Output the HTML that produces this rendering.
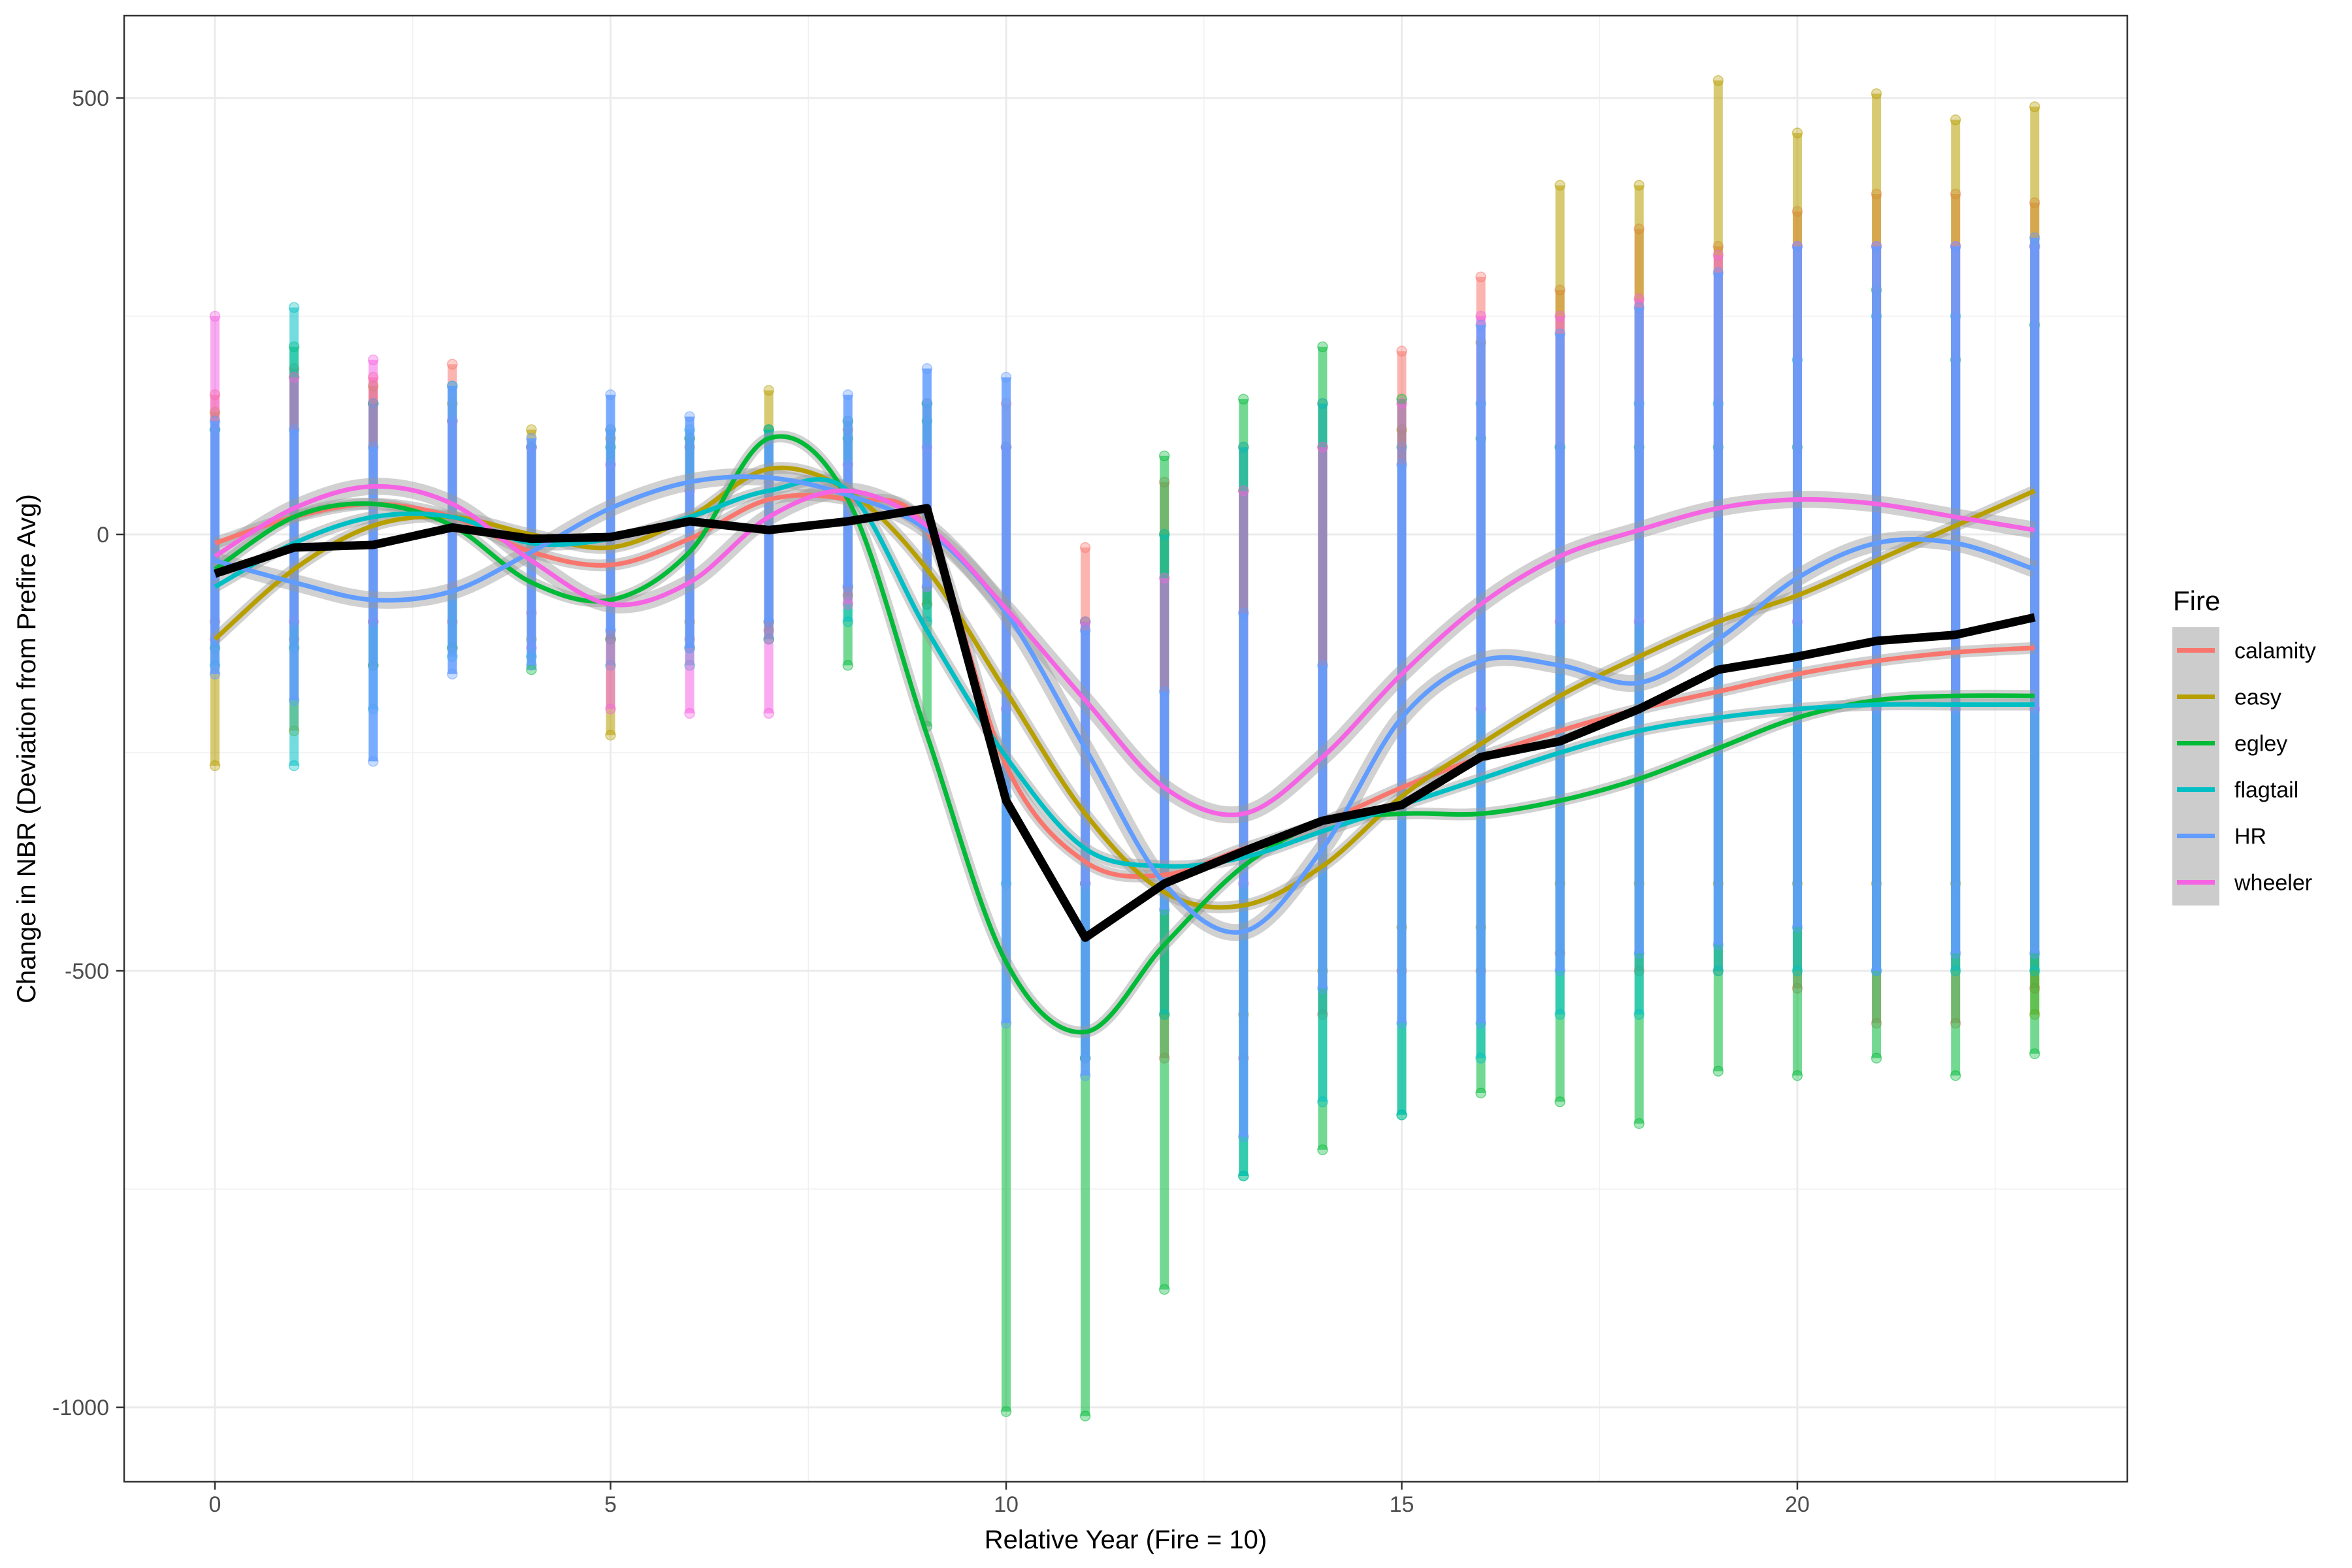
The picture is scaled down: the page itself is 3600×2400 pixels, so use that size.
<!DOCTYPE html>
<html><head><meta charset="utf-8"><style>
html,body{margin:0;padding:0;background:#fff;}
svg{display:block;font-family:"Liberation Sans",Arial,sans-serif;}
</style></head><body>
<svg id="chart" width="3600" height="2400" viewBox="0 0 3600 2400" xmlns="http://www.w3.org/2000/svg">
<rect x="0" y="0" width="3600" height="2400" fill="#fff"/>
<g id="grid"></g>
<g id="cols"></g>
<g id="bands"></g>
<g id="lines"></g>
<g id="mean"></g>
<rect x="190" y="24" width="3066" height="2244" fill="none" stroke="#333" stroke-width="2.5"/>
<g id="axes"></g>
<text x="1723" y="2370" font-size="40" text-anchor="middle" fill="#000">Relative Year (Fire = 10)</text>
<text transform="translate(54,1146) rotate(-90)" font-size="40" text-anchor="middle" fill="#000">Change in NBR (Deviation from Prefire Avg)</text>
<g id="legend"></g>
</svg>
<script>
const years = [0,1,2,3,4,5,6,7,8,9,10,11,12,13,14,15,16,17,18,19,20,21,22,23];
const fires = ["calamity","easy","egley","flagtail","HR","wheeler"];
const colors = ["#F8766D","#B79F00","#00BA38","#00BFC4","#619CFF","#F564E3"];
const xTicks = [0,5,10,15,20];
const yTicks = [500,0,-500,-1000];
// point column ranges (top / bottom) per fire per year
const calamityTop = [160,190,180,195,100,120,100,120,120,150,150,-15,60,100,150,210,295,280,350,330,370,390,390,380];
const calamityBot = [-100,-120,-100,-100,-90,-120,-120,-110,-60,-80,-300,-600,-600,-600,-550,-500,-500,-480,-500,-500,-520,-560,-560,-520];
const easyTop = [140,180,170,150,120,110,110,165,130,150,100,-100,0,50,100,120,220,400,400,520,460,505,475,490];
const easyBot = [-265,-225,-150,-130,-120,-230,-100,-100,-70,-80,-300,-600,-550,-550,-500,-450,-450,-400,-400,-400,-400,-400,-400,-550];
const egleyTop = [120,215,150,130,100,100,110,120,110,130,-300,-400,90,155,215,155,110,100,100,100,100,280,200,240];
const egleyBot = [-130,-130,-150,-130,-155,-120,-130,-120,-150,-220,-1005,-1010,-865,-735,-705,-665,-640,-650,-675,-615,-620,-600,-620,-595];
const flagtailTop = [120,260,150,170,100,120,120,120,130,150,100,-100,0,100,150,100,150,100,150,150,200,250,250,330];
const flagtailBot = [-150,-265,-200,-140,-140,-150,-150,-120,-100,-100,-400,-600,-550,-735,-650,-665,-600,-550,-550,-500,-500,-500,-500,-500];
const hrTop = [130,120,100,170,110,160,135,110,160,190,180,-110,-180,-90,-150,80,240,230,260,300,330,330,330,340];
const hrBot = [-160,-190,-260,-160,-150,-110,-130,-100,-60,-60,-560,-620,-430,-690,-520,-560,-560,-500,-480,-470,-450,-500,-480,-480];
const wheelerTop = [250,180,200,130,100,80,50,60,80,100,100,-100,-50,50,100,150,250,250,270,320,330,330,330,330];
const wheelerBot = [-120,-100,-100,-60,-130,-200,-205,-205,-80,-60,-200,-400,-400,-400,-350,-300,-200,-100,-100,-100,-100,-200,-200,-200];
// smooth curves per fire
const calamitySm = [-10,20,35,20,-20,-35,-5,40,40,5,-265,-375,-390,-360,-330,-290,-255,-225,-200,-180,-160,-145,-135,-130];
const easySm = [-120,-40,10,20,0,-15,20,75,50,-40,-180,-320,-410,-425,-380,-300,-240,-185,-140,-100,-70,-30,10,50];
const egleySm = [-40,20,35,10,-55,-75,-20,110,40,-230,-490,-570,-470,-380,-330,-320,-320,-305,-280,-245,-210,-190,-185,-185];
const flagtailSm = [-60,-10,20,20,-10,-5,20,50,50,-110,-255,-360,-380,-370,-340,-310,-280,-250,-225,-210,-200,-195,-195,-195];
const hrSm = [-30,-55,-75,-65,-20,30,60,65,45,5,-90,-245,-400,-455,-360,-210,-145,-150,-170,-120,-50,-10,-10,-40];
const wheelerSm = [-25,30,55,35,-30,-80,-55,20,50,10,-85,-190,-290,-320,-255,-160,-80,-25,5,30,40,35,20,5];
const meanVals = [-45,-15,-12,8,-5,-3,15,5,15,30,-305,-462,-400,-363,-328,-310,-255,-237,-200,-155,-140,-122,-115,-95];

const X0=329, XS=121.1, Y0=818, YS=668/500;
const xs = v => X0 + v*XS;
const ys = v => Y0 - v*YS;
const NS="http://www.w3.org/2000/svg";
function mk(tag, parent, attrs){const e=document.createElementNS(NS,tag);for(const k in attrs)e.setAttribute(k,attrs[k]);parent.appendChild(e);return e;}

const grid=document.getElementById('grid');
[250,-250,-750].forEach(v=>{const l=mk('line',grid,{x1:190,x2:3256,y1:ys(v),y2:ys(v),stroke:'#f0f0f0','stroke-width':1.5});

});
[2.5,7.5,12.5,17.5,22.5].forEach(v=>{const l=mk('line',grid,{x1:xs(v),x2:xs(v),y1:24,y2:2268,stroke:'#f0f0f0','stroke-width':1.5});

});
yTicks.forEach(v=>{const l=mk('line',grid,{x1:190,x2:3256,y1:ys(v),y2:ys(v),stroke:'#ebebeb','stroke-width':3});

});
xTicks.forEach(v=>{const l=mk('line',grid,{x1:xs(v),x2:xs(v),y1:24,y2:2268,stroke:'#ebebeb','stroke-width':3});

});

const axes=document.getElementById('axes');
yTicks.forEach(v=>{
  const t=mk('line',axes,{x1:178,x2:190,y1:ys(v),y2:ys(v),stroke:'#333','stroke-width':2.5});
  
  
  const tx=mk('text',axes,{x:167,y:ys(v)+12,'font-size':34,'text-anchor':'end',fill:'#4d4d4d'});
  tx.textContent=v;
  
  
});
xTicks.forEach(v=>{
  const t=mk('line',axes,{x1:xs(v),x2:xs(v),y1:2268,y2:2280,stroke:'#333','stroke-width':2.5});
  
  
  const tx=mk('text',axes,{x:xs(v),y:2314,'font-size':34,'text-anchor':'middle',fill:'#4d4d4d'});
  tx.textContent=v;
  
  
});

const cols=document.getElementById('cols');
const tops=[calamityTop,easyTop,egleyTop,flagtailTop,wheelerTop,hrTop];
const bots=[calamityBot,easyBot,egleyBot,flagtailBot,wheelerBot,hrBot];
const colIdx=[0,1,2,3,5,4];
colIdx.forEach((fi,k)=>{
  const c=colors[fi];
  years.forEach((yr,i)=>{
    const t=tops[k][i], b=bots[k][i];
    const ln=mk('line',cols,{x1:xs(yr),x2:xs(yr),y1:ys(t),y2:ys(b),stroke:c,'stroke-width':14,'stroke-opacity':fi===4?0.85:0.55});
    
    
    [t,b].forEach(v=>{
      const p=mk('circle',cols,{cx:xs(yr),cy:ys(v),r:7.5,fill:c,'fill-opacity':0.35,stroke:c,'stroke-opacity':0.5,'stroke-width':1.5});
      
      
    });
  });
});

function pathD(vals){
  const pts=years.map((y,i)=>[xs(y),ys(vals[i])]);
  let d='M'+pts[0][0]+','+pts[0][1];
  for(let i=0;i<pts.length-1;i++){
    const p0=pts[Math.max(0,i-1)],p1=pts[i],p2=pts[i+1],p3=pts[Math.min(pts.length-1,i+2)];
    const c1=[p1[0]+(p2[0]-p0[0])/6,p1[1]+(p2[1]-p0[1])/6];
    const c2=[p2[0]-(p3[0]-p1[0])/6,p2[1]-(p3[1]-p1[1])/6];
    d+=' C'+c1[0]+','+c1[1]+' '+c2[0]+','+c2[1]+' '+p2[0]+','+p2[1];
  }
  return d;
}
const smooths=[calamitySm,easySm,egleySm,flagtailSm,hrSm,wheelerSm];
const bands=document.getElementById('bands');
const lines=document.getElementById('lines');
smooths.forEach((s,fi)=>{
  const b=mk('path',bands,{d:pathD(s),fill:'none',stroke:'#999','stroke-opacity':0.45,'stroke-width':fi===4||fi===5?26:18,'stroke-linejoin':'round'});
  
  
});
smooths.forEach((s,fi)=>{
  const l=mk('path',lines,{d:pathD(s),fill:'none',stroke:colors[fi],'stroke-width':7,'stroke-linejoin':'round'});
  
  
});
const mean=document.getElementById('mean');
const mp=mk('polyline',mean,{points:years.map((y,i)=>xs(y)+','+ys(meanVals[i])).join(' '),fill:'none',stroke:'#000','stroke-width':13,'stroke-linejoin':'round'});



const lg=document.getElementById('legend');
const lt=mk('text',lg,{x:3326,y:934,'font-size':42,fill:'#000'});
lt.textContent='Fire';


const kb=mk('rect',lg,{x:3325,y:960,width:72,height:426,fill:'#cccccc'});


fires.forEach((f,i)=>{
  const cy=995.5+i*71;
  const k=mk('line',lg,{x1:3332,x2:3390,y1:cy,y2:cy,stroke:colors[i],'stroke-width':7});
  
  
  const t=mk('text',lg,{x:3420,y:cy+12,'font-size':34,fill:'#000'});
  t.textContent=f;
  
  
});
</script>
</body></html>
